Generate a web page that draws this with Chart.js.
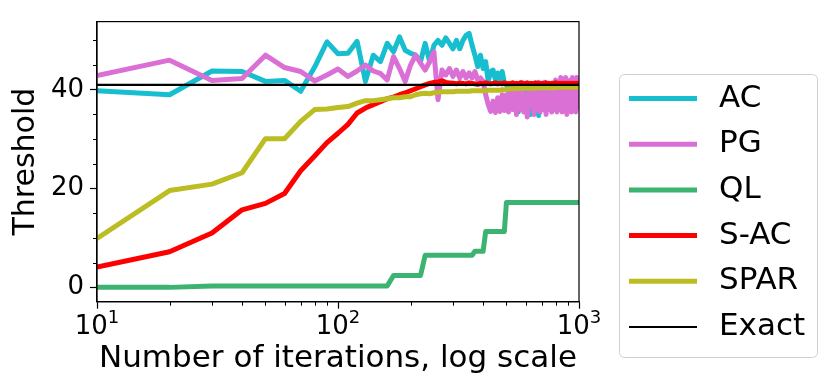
<!DOCTYPE html>
<html>
<head>
<meta charset="utf-8">
<title>Threshold vs iterations</title>
<script src="https://cdn.jsdelivr.net/npm/chart.js@4.4.1/dist/chart.umd.min.js"></script>
<style>
    html, body { margin: 0; padding: 0; background: #fff; }
    #chart-canvas { display: block; }
</style>
</head>
<body>
<canvas id="chart-canvas" width="830" height="390"></canvas>
<script>
(function(){
    /**
     * Iteration counts (x values, log scale).
     * @type {number[]}
     */
    var iterations = [
        10, 20, 30, 40, 50, 60, 70, 80, 90, 100,
        110, 120, 130, 140, 150, 160, 170, 180, 190, 200,
        210, 220, 230, 240, 250, 260, 270, 280, 290, 300,
        310, 320, 330, 340, 350, 360, 370, 380, 390, 400,
        410, 420, 430, 440, 450, 460, 470, 480, 490, 500,
        510, 520, 530, 540, 550, 560, 570, 580, 590, 600,
        610, 620, 630, 640, 650, 660, 670, 680, 690, 700,
        710, 720, 730, 740, 750, 760, 770, 780, 790, 800,
        810, 820, 830, 840, 850, 860, 870, 880, 890, 900,
        910, 920, 930, 940, 950, 960, 970, 980, 990, 1000
    ];

    var acValues = [
        39.8, 39.0, 43.8, 43.7, 41.7, 41.9, 39.7, 44.6, 49.7, 47.3,
        47.4, 49.8, 41.7, 47.0, 45.7, 49.4, 47.7, 50.7, 48.0, 47.4,
        47.0, 45.7, 49.4, 45.7, 49.0, 50.0, 49.0, 50.5, 49.4, 48.3,
        50.0, 48.3, 50.0, 51.0, 51.4, 49.0, 47.0, 44.7, 47.0, 44.3,
        45.7, 41.7, 43.7, 44.0, 42.0, 43.4, 41.7, 43.7, 41.4, 41.0,
        40.5, 38.5, 40.8, 37.0, 39.5, 35.5, 40.0, 37.5, 39.8, 36.0,
        40.5, 38.0, 35.0, 39.5, 37.0, 40.5, 38.0, 34.8, 39.0, 36.5,
        40.0, 37.5, 41.0, 38.5, 36.0, 40.5, 37.0, 39.5, 41.5, 38.0,
        40.0, 36.5, 41.5, 38.0, 40.5, 37.5, 41.0, 38.5, 36.5, 40.0,
        37.0, 41.0, 38.5, 36.0, 40.5, 37.5, 39.5, 36.5, 40.0, 38.0
    ];

    var pgValues = [
        42.9, 46.0, 41.9, 42.3, 47.0, 44.5, 43.7, 41.8, 43.0, 44.2,
        42.7, 43.8, 45.0, 43.8, 43.3, 42.0, 46.7, 44.3, 41.7, 45.0,
        47.0, 45.4, 44.0, 45.7, 47.7, 38.0, 44.0, 43.0, 44.3, 42.7,
        44.0, 42.4, 43.7, 42.4, 43.4, 42.4, 43.7, 42.0, 42.4, 41.7,
        39.0, 37.0, 35.6, 37.7, 35.4, 38.4, 35.6, 39.0, 35.8, 39.0,
        35.5, 40.0, 36.0, 41.0, 35.0, 39.5, 36.0, 41.5, 35.5, 39.0,
        34.5, 40.5, 36.5, 41.0, 35.0, 39.5, 36.0, 41.5, 35.5, 40.0,
        36.0, 41.5, 35.0, 40.5, 36.5, 41.0, 35.5, 40.0, 36.0, 42.0,
        35.5, 41.0, 36.5, 42.5, 35.5, 41.0, 36.0, 42.5, 35.0, 41.5,
        36.5, 42.0, 35.5, 42.5, 36.0, 41.0, 35.5, 42.5, 36.5, 41.0
    ];

    var qlValues = [
        0.0, 0.0, 0.3, 0.3, 0.3, 0.3, 0.3, 0.3, 0.3, 0.3,
        0.3, 0.3, 0.3, 0.3, 0.3, 0.3, 2.4, 2.4, 2.4, 2.4,
        2.4, 2.4, 6.5, 6.5, 6.5, 6.5, 6.5, 6.5, 6.5, 6.5,
        6.5, 6.5, 6.5, 6.5, 6.5, 6.5, 7.3, 7.3, 7.3, 7.3,
        11.3, 11.3, 11.3, 11.3, 11.3, 11.3, 11.3, 11.3, 11.3, 17.2,
        17.2, 17.2, 17.2, 17.2, 17.2, 17.2, 17.2, 17.2, 17.2, 17.2,
        17.2, 17.2, 17.2, 17.2, 17.2, 17.2, 17.2, 17.2, 17.2, 17.2,
        17.2, 17.2, 17.2, 17.2, 17.2, 17.2, 17.2, 17.2, 17.2, 17.2,
        17.2, 17.2, 17.2, 17.2, 17.2, 17.2, 17.2, 17.2, 17.2, 17.2,
        17.2, 17.2, 17.2, 17.2, 17.2, 17.2, 17.2, 17.2, 17.2, 17.2
    ];

    var sacValues = [
        4.1, 7.2, 11.0, 15.7, 17.0, 19.0, 23.6, 26.6, 29.3, 31.2,
        33.0, 35.3, 36.3, 37.0, 37.6, 38.2, 38.5, 39.0, 39.4, 39.8,
        40.2, 40.6, 41.0, 41.3, 41.5, 41.6, 41.8, 41.5, 41.4, 41.3,
        41.2, 41.4, 41.3, 41.2, 41.4, 41.3, 41.2, 41.1, 41.3, 41.2,
        41.4, 41.3, 41.2, 41.3, 41.4, 41.2, 41.3, 41.2, 41.4, 41.3,
        41.2, 41.3, 41.4, 41.2, 41.3, 41.2, 41.4, 41.3, 41.2, 41.3,
        41.4, 41.2, 41.3, 41.2, 41.3, 41.4, 41.2, 41.3, 41.2, 41.3,
        41.2, 41.3, 41.4, 41.2, 41.3, 41.2, 41.3, 41.2, 41.3, 41.4,
        41.2, 41.3, 41.2, 41.3, 41.2, 41.3, 41.2, 41.3, 41.2, 41.3,
        41.2, 41.3, 41.2, 41.3, 41.2, 41.3, 41.2, 41.3, 41.2, 41.3
    ];

    var sparValues = [
        9.9, 19.6, 20.9, 23.2, 30.1, 30.1, 33.6, 36.0, 36.1, 36.4,
        36.6, 37.3, 37.8, 37.8, 38.0, 38.2, 38.4, 38.4, 38.6, 38.6,
        39.0, 39.2, 39.3, 39.2, 39.4, 39.5, 39.6, 39.6, 39.6, 39.6,
        39.7, 39.7, 39.7, 39.7, 39.7, 39.8, 39.8, 39.8, 39.8, 39.8,
        39.8, 39.9, 39.9, 39.9, 39.9, 39.9, 39.9, 40.0, 40.0, 40.0,
        40.2, 40.2, 40.2, 40.2, 40.2, 40.3, 40.3, 40.3, 40.3, 40.3,
        40.3, 40.3, 40.3, 40.3, 40.3, 40.4, 40.4, 40.4, 40.4, 40.4,
        40.4, 40.4, 40.4, 40.4, 40.4, 40.4, 40.4, 40.4, 40.4, 40.4,
        40.5, 40.5, 40.5, 40.5, 40.5, 40.5, 40.5, 40.5, 40.5, 40.5,
        40.5, 40.5, 40.5, 40.5, 40.5, 40.5, 40.5, 40.5, 40.5, 40.5
    ];

    /**
     * Exact threshold (horizontal reference line).
     * @type {number[]}
     */
    var exactX = [10, 1000];
    var exactValues = [41.0, 41.0];

    var seriesLabels = ['AC', 'PG', 'QL', 'S-AC', 'SPAR', 'Exact'];
    var seriesColors = ['#17becf', '#da70d6', '#3cb371', '#ff0000', '#bcbd22', '#000000'];

    /**
     * X tick labels are drawn as base + superscript exponent.
     */
    var xTicks = [10, 100, 1000];
    var xTickBase = ['10', '10', '10'];
    var xTickExp = ['1', '2', '3'];
    var xMinorTicks = [20, 30, 40, 50, 60, 70, 80, 90, 200, 300, 400, 500, 600, 700, 800, 900];
    var yTicks = [0, 20, 40];
    var yMinorTicks = [5, 10, 15, 25, 30, 35, 45, 50];

    const FONT = 'DejaVu Sans';

    function toPoints(xs, ys){
        return xs.map(function(x, i){ return {x: x, y: ys[i]}; });
    }

    function lineDataset(idx, xs, ys, width, order){
        return {
            label: seriesLabels[idx],
            data: toPoints(xs, ys),
            borderColor: seriesColors[idx],
            backgroundColor: seriesColors[idx],
            borderWidth: width,
            pointRadius: 0,
            tension: 0,
            fill: false,
            borderJoinStyle: 'round',
            borderCapStyle: 'butt',
            order: order
        };
    }

    /**
     * Frame, minor ticks, log tick labels and the legend box (matplotlib look).
     */
    var decorPlugin = {
        id: 'decor',
        afterDraw: function(chart){
            var ctx = chart.ctx, a = chart.chartArea;
            var xs = chart.scales.x, ys = chart.scales.y;
            ctx.save();

            // axes frame
            ctx.strokeStyle = '#000';
            ctx.lineWidth = 1.2;
            ctx.strokeRect(a.left, a.top, a.right - a.left, a.bottom - a.top);

            // minor ticks
            ctx.lineWidth = 1;
            ctx.beginPath();
            xMinorTicks.forEach(function(v){
                var px = Math.round(xs.getPixelForValue(v)) + 0.5;
                ctx.moveTo(px, a.bottom);
                ctx.lineTo(px, a.bottom + 4);
            });
            yMinorTicks.forEach(function(v){
                var py = Math.round(ys.getPixelForValue(v)) + 0.5;
                ctx.moveTo(a.left, py);
                ctx.lineTo(a.left - 4, py);
            });
            ctx.stroke();

            // x tick labels: 10 with superscript exponent
            ctx.fillStyle = '#000';
            ctx.textBaseline = 'alphabetic';
            ctx.textAlign = 'left';
            xTicks.forEach(function(v, i){
                var px = xs.getPixelForValue(v);
                ctx.font = '26px "' + FONT + '"';
                var wb = ctx.measureText(xTickBase[i]).width;
                ctx.font = '18px "' + FONT + '"';
                var we = ctx.measureText(xTickExp[i]).width;
                var x0 = px - (wb + we) / 2;
                ctx.font = '26px "' + FONT + '"';
                ctx.fillText(xTickBase[i], x0, a.bottom + 32);
                ctx.font = '18px "' + FONT + '"';
                ctx.fillText(xTickExp[i], x0 + wb, a.bottom + 21);
            });

            // legend
            var box = {x: 619, y: 74, w: 198, h: 283};
            ctx.beginPath();
            ctx.roundRect(box.x + 0.5, box.y + 0.5, box.w, box.h, 5);
            ctx.fillStyle = 'rgba(255,255,255,0.8)';
            ctx.fill();
            ctx.strokeStyle = '#d0d0d0';
            ctx.lineWidth = 1;
            ctx.stroke();

            ctx.font = '31px "' + FONT + '"';
            ctx.textBaseline = 'middle';
            ctx.textAlign = 'left';
            chart.data.datasets.forEach(function(ds, i){
                var rowY = 98.5 + 45.7 * i;
                ctx.beginPath();
                ctx.strokeStyle = ds.borderColor;
                ctx.lineWidth = ds.borderWidth;
                ctx.moveTo(629, rowY);
                ctx.lineTo(697, rowY);
                ctx.stroke();
                ctx.fillStyle = '#000';
                ctx.fillText(ds.label, 719, rowY);
            });

            ctx.restore();
        }
    };

    var ctx = document.getElementById('chart-canvas').getContext('2d');
    var myChart = new Chart(ctx, {
        type: 'line',
        data: {
            datasets: [
                lineDataset(0, iterations, acValues, 5, 6),
                lineDataset(1, iterations, pgValues, 5, 5),
                lineDataset(2, iterations, qlValues, 5, 4),
                lineDataset(3, iterations, sacValues, 5, 3),
                lineDataset(4, iterations, sparValues, 5, 2),
                lineDataset(5, exactX, exactValues, 2.2, 1)
            ]
        },
        options: {
            responsive: false,
            animation: false,
            devicePixelRatio: 1,
            layout: {
                padding: {left: 0, top: 18, right: 251, bottom: 0}
            },
            plugins: {
                legend: {display: false},
                tooltip: {enabled: false}
            },
            scales: {
                x: {
                    type: 'logarithmic',
                    min: 10,
                    max: 1000,
                    afterBuildTicks: function(scale){
                        scale.ticks = xTicks.map(function(v){ return {value: v}; });
                    },
                    afterFit: function(scale){ scale.height = 88.3; },
                    ticks: {
                        display: false,
                        autoSkip: false,
                        maxRotation: 0
                    },
                    grid: {
                        drawOnChartArea: false,
                        tickLength: 7,
                        tickWidth: 1.2,
                        color: '#000'
                    },
                    border: {color: '#000', width: 1.2},
                    title: {
                        display: true,
                        text: 'Number of iterations, log scale',
                        color: '#000',
                        font: {family: FONT, size: 31},
                        padding: {top: 0, bottom: 12}
                    }
                },
                y: {
                    type: 'linear',
                    min: -2.9,
                    max: 53.8,
                    afterBuildTicks: function(scale){
                        scale.ticks = yTicks.map(function(v){ return {value: v}; });
                    },
                    afterFit: function(scale){ scale.width = 97; },
                    ticks: {
                        padding: 6,
                        color: '#000',
                        font: {family: FONT, size: 26}
                    },
                    grid: {
                        drawOnChartArea: false,
                        tickLength: 7,
                        tickWidth: 1.2,
                        color: '#000'
                    },
                    border: {color: '#000', width: 1.2},
                    title: {
                        display: true,
                        text: 'Threshold',
                        color: '#000',
                        font: {family: FONT, size: 30},
                        padding: {top: 8, bottom: 0}
                    }
                }
            }
        },
        plugins: [decorPlugin]
    });
})();
</script>
</body>
</html>
